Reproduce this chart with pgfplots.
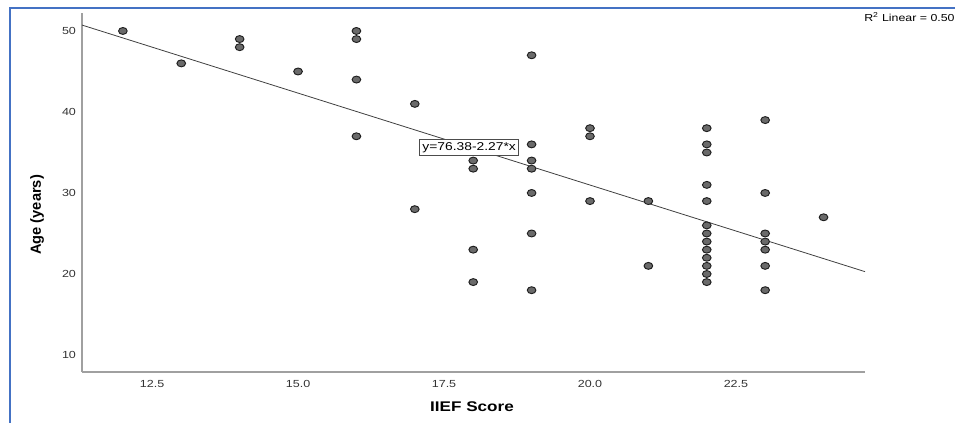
\documentclass[border=0pt]{standalone}
\usepackage{pgfplots}
\pgfplotsset{compat=1.18}
\usepackage{fontspec}
\setmainfont[FakeStretch=1.22]{Liberation Sans}
\newfontfamily\yfont{Liberation Sans}
\definecolor{frameblue}{HTML}{4472C4}
\definecolor{mkfill}{HTML}{6A6A6A}
\definecolor{mkdraw}{HTML}{1E1E1E}
\definecolor{axgray}{HTML}{A0A0A0}
\definecolor{ticktext}{HTML}{333333}
\begin{document}
\begin{tikzpicture}
\begin{axis}[
  scale only axis, width=587.25pt, height=269.25pt,
  at={(61.5pt,38.25pt)}, anchor=south west,
  xmin=11.3, xmax=24.71, ymin=7.9, ymax=52.22,
  axis x line=bottom, axis y line=left,
  axis line style={draw=axgray, line width=1pt, -},
  xtick={12.5,15,17.5,20,22.5}, ytick={10,20,30,40,50},
  major tick length=0pt,
  /pgf/number format/assume math mode=true,
  xticklabel style={/pgf/number format/.cd, fixed, fixed zerofill, precision=1, /tikz/.cd, yshift=-3pt},
  yticklabel style={xshift=-1pt},
  tick label style={font=\fontsize{7.7}{9}\selectfont, text=ticktext},
]
\addplot[draw=black!75, line width=0.6pt] coordinates {(11.3,50.729) (24.71,20.288)};
\addplot[only marks, mark=*, mark size=2.6pt, mark options={xscale=1.25, fill=mkfill, draw=mkdraw, line width=0.7pt}] coordinates {
(12,50) (13,46) (14,49) (14,48) (15,45)
(16,50) (16,49) (16,44) (16,37)
(17,41) (17,28)
(18,34) (18,33) (18,23) (18,19)
(19,47) (19,36) (19,34) (19,33) (19,30) (19,25) (19,18)
(20,38) (20,37) (20,29)
(21,29) (21,21)
(22,38) (22,36) (22,35) (22,31) (22,29) (22,26) (22,25) (22,24) (22,23) (22,22) (22,21) (22,20) (22,19)
(23,39) (23,30) (23,25) (23,24) (23,23) (23,21) (23,18)
(24,27)
};
\node[draw=black!70, fill=white, inner sep=2pt, line width=0.5pt, font=\fontsize{8.5}{10}\selectfont] at (axis cs:17.93,35.6) {y=76.38-2.27*x};
\end{axis}
\node[font=\fontsize{10.5}{12}\selectfont\bfseries] at (354pt,12pt) {IIEF Score};
\node[font=\yfont\fontsize{11}{13}\selectfont\bfseries, rotate=90] at (27.75pt,156pt) {Age (years)};
\node[anchor=west, inner sep=0pt, font=\fontsize{7.6}{9}\selectfont] at (648pt,304.5pt) {R\textsuperscript{2} Linear = 0.50};
\draw[frameblue, line width=1.5pt] (7.5pt,0pt) -- (7.5pt,310.9pt) -- (716.25pt,310.9pt);
\pgfresetboundingbox
\path[use as bounding box] (0,0) rectangle (716.25pt,317.25pt);
\end{tikzpicture}
\end{document}
